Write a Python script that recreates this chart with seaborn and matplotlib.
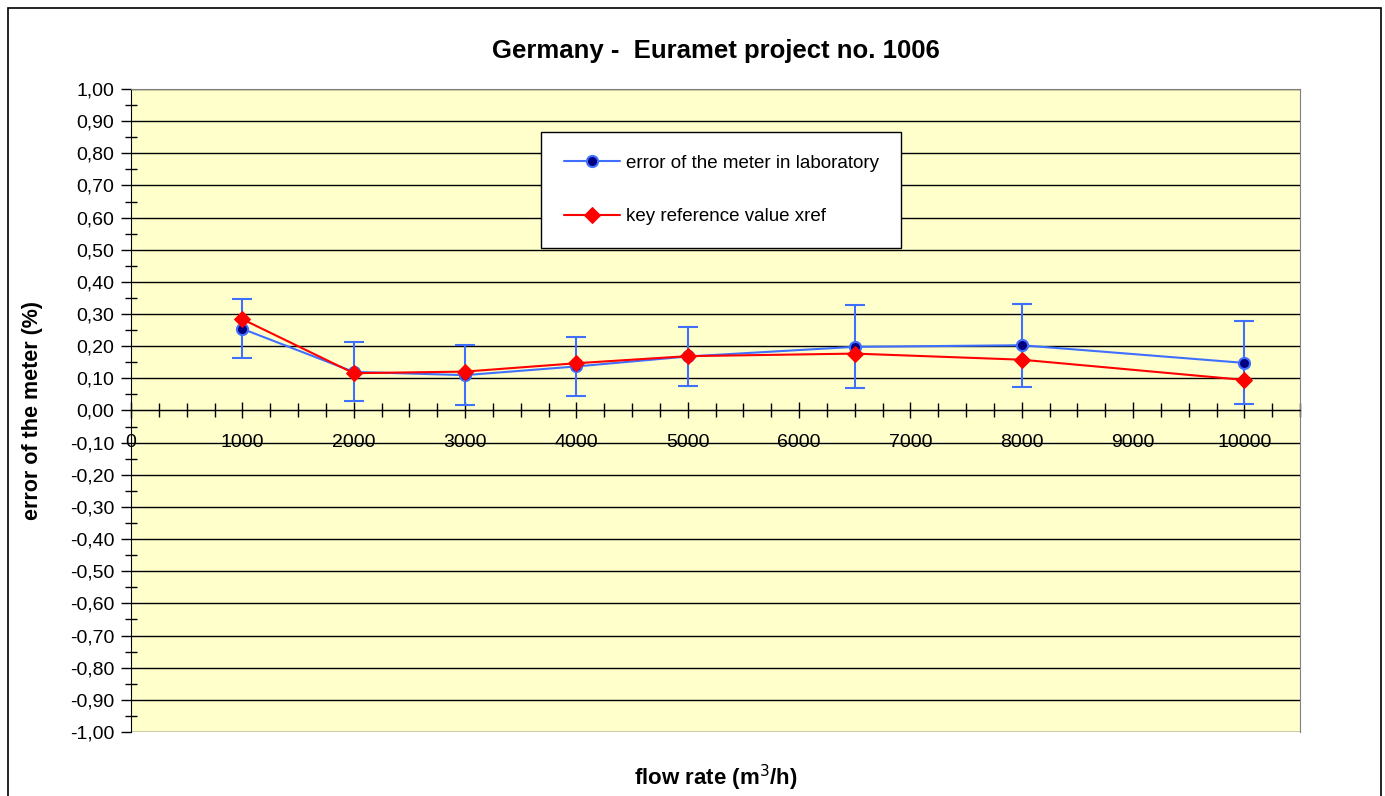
import seaborn as sns
import pandas as pd
import matplotlib.pyplot as plt
from matplotlib.ticker import MultipleLocator, FuncFormatter
from matplotlib.patches import Rectangle


flow_rate = [1000, 2000, 3000, 4000, 5000, 6500, 8000, 10000]
meter_error = [0.254, 0.120, 0.110, 0.137, 0.168, 0.198, 0.203, 0.148]
meter_uncert = [0.092, 0.092, 0.093, 0.092, 0.092, 0.129, 0.129, 0.129]
xref = [0.284, 0.116, 0.121, 0.147, 0.169, 0.177, 0.158, 0.095]

x_ticks = list(range(0, 10001, 1000))

blue = '#3F6FFF'
red = '#FF0000'


def comma_fmt(v, pos):
    return f"{v:.2f}".replace(".", ",")


def main():
    sns.set_style("white")
    plt.rcParams['font.family'] = ['Liberation Sans', 'DejaVu Sans']
    plt.rcParams.update({'text.color': 'black', 'axes.labelcolor': 'black',
                         'xtick.color': 'black', 'ytick.color': 'black'})

    df = pd.DataFrame({'flow': flow_rate, 'lab': meter_error, 'xref': xref})

    fig = plt.figure(figsize=(13.85, 7.96), dpi=100)
    ax = fig.add_axes([0.0946, 0.0804, 0.8441, 0.8078])
    ax.set_facecolor('#FFFFCC')

    ax.errorbar(df['flow'], df['lab'], yerr=meter_uncert, fmt='none',
                ecolor=blue, elinewidth=1.5, capsize=7, capthick=1.5, zorder=3)
    sns.lineplot(data=df, x='flow', y='lab', ax=ax, color=blue, lw=1.5,
                 marker='o', markersize=8, markerfacecolor='#000080',
                 markeredgecolor=blue, markeredgewidth=1.5,
                 label='error of the meter in laboratory', zorder=4)
    sns.lineplot(data=df, x='flow', y='xref', ax=ax, color=red, lw=1.5,
                 marker='D', markersize=8, markerfacecolor=red,
                 markeredgecolor=red,
                 label='key reference value xref', zorder=5)

    ax.set_xlim(0, 10500)
    ax.set_ylim(-1.0, 1.0)
    ax.set_xticks(x_ticks)
    ax.xaxis.set_minor_locator(MultipleLocator(250))
    ax.yaxis.set_major_locator(MultipleLocator(0.1))
    ax.yaxis.set_minor_locator(MultipleLocator(0.05))
    ax.yaxis.set_major_formatter(FuncFormatter(comma_fmt))

    ax.grid(axis='y', which='major', color='black', lw=1)
    ax.set_axisbelow(True)

    for s in ['top', 'right']:
        ax.spines[s].set_color('#808080')
    ax.spines['left'].set_color('black')
    ax.spines['bottom'].set_position(('data', 0))
    ax.spines['bottom'].set_color('black')

    ax.tick_params(axis='y', which='major', direction='out', length=7,
                   width=1, labelsize=14, pad=5, left=True)
    ax.tick_params(axis='y', which='minor', direction='inout', length=8,
                   width=1, left=True)
    ax.tick_params(axis='x', which='major', direction='inout', length=12,
                   width=1, labelsize=14, pad=11, bottom=True)
    ax.tick_params(axis='x', which='minor', direction='inout', length=10,
                   width=1, bottom=True)

    ax.set_xlabel('flow rate (m$^3$/h)', fontsize=16, fontweight='bold')
    ax.xaxis.set_label_coords(0.5, -0.048)
    ax.set_ylabel('error of the meter (%)', fontsize=15.5, fontweight='bold')
    ax.yaxis.set_label_coords(-0.075, 0.5)
    ax.set_title('Germany -  Euramet project no. 1006', fontsize=18.5,
                 fontweight='bold', pad=22)

    leg = ax.legend(loc='upper left', bbox_to_anchor=(0.351, 0.933),
                    fontsize=13.5, frameon=True, fancybox=False,
                    edgecolor='black', framealpha=1, borderpad=1.2,
                    labelspacing=1.95, handlelength=3.0, handletextpad=0.3,
                    borderaxespad=0)
    leg.get_frame().set_linewidth(1)

    fig.patches.append(Rectangle((8 / 1385, -0.01), 1373 / 1385, 1 - 8 / 796 + 0.01,
                                 transform=fig.transFigure, fill=False,
                                 edgecolor='black', lw=1.2))

    fig.savefig('out.png', dpi=100)


if __name__ == '__main__':
    main()
